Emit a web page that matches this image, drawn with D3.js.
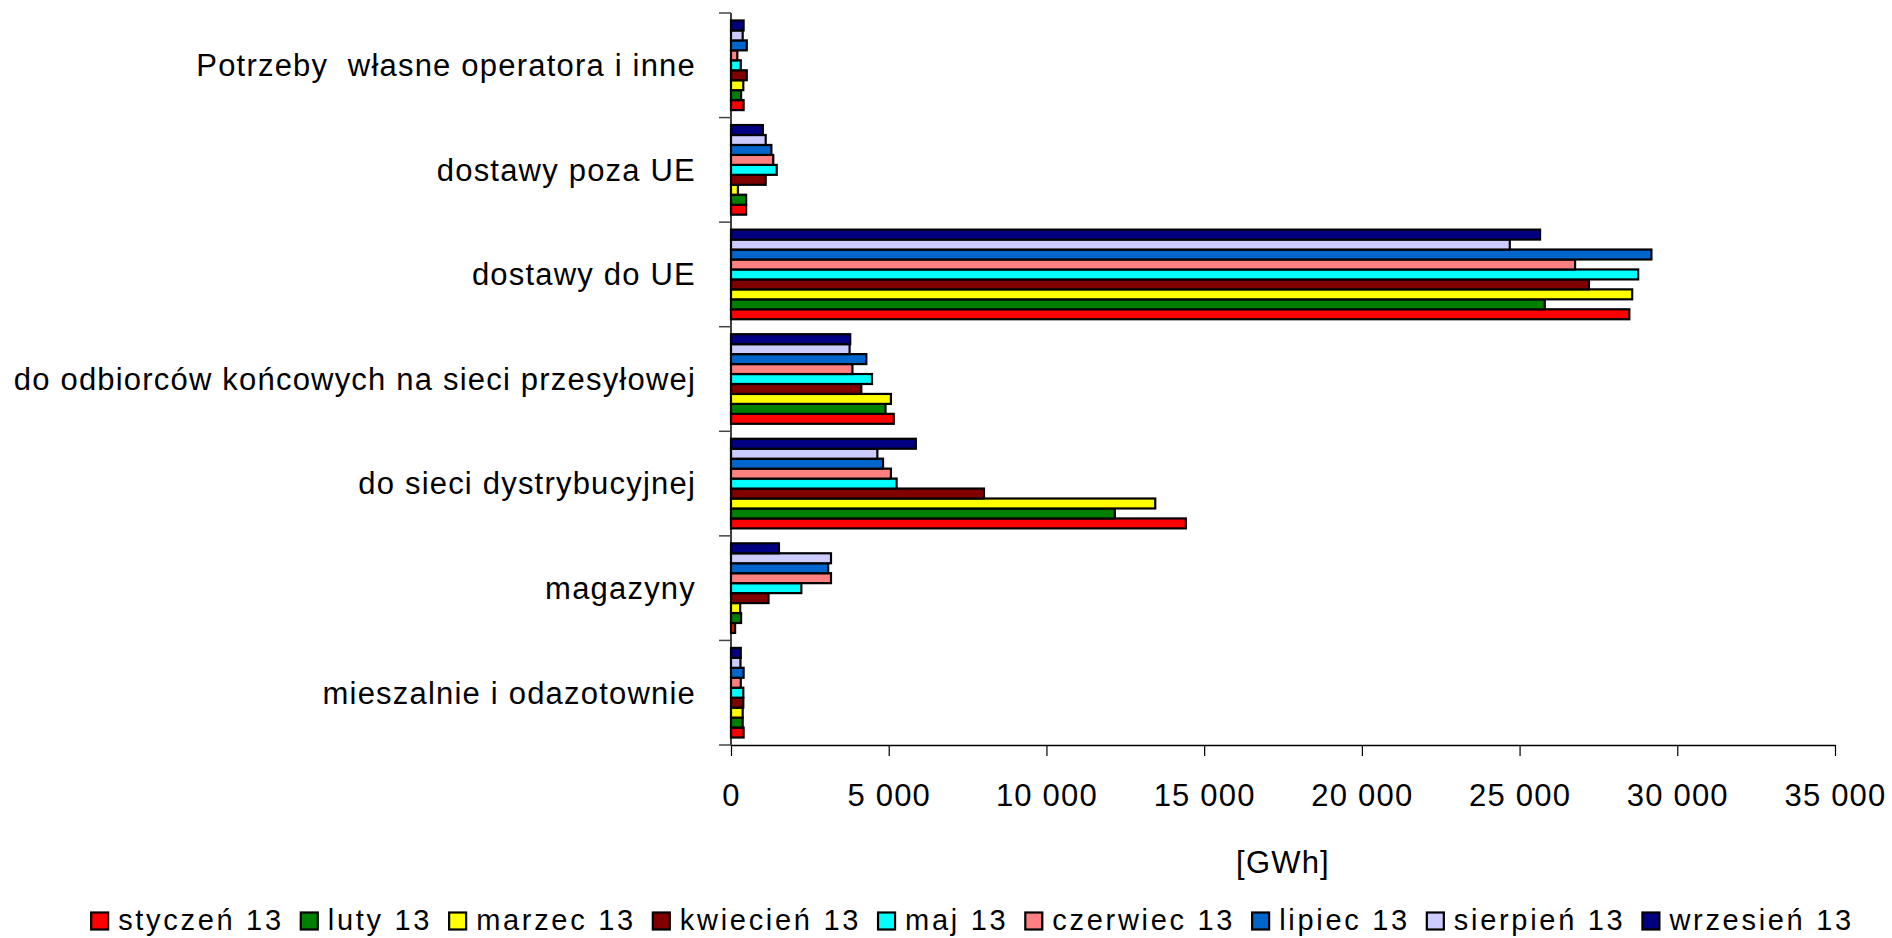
<!DOCTYPE html>
<html><head><meta charset="utf-8">
<script src="https://cdn.jsdelivr.net/npm/d3@7"></script>
<style>
body{margin:0;background:#fff}
text{font-family:"Liberation Sans",Arial,sans-serif;font-size:31px;letter-spacing:1.2px;fill:#000;white-space:pre}
text.leg{font-size:29px;letter-spacing:2.7px}
</style>
</head><body>
<svg id="c" width="1892" height="938"></svg>
<script>
// ---- data ----
const categories = [
  "Potrzeby  własne operatora i inne",
  "dostawy poza UE",
  "dostawy do UE",
  "do odbiorców końcowych na sieci przesyłowej",
  "do sieci dystrybucyjnej",
  "magazyny",
  "mieszalnie i odazotownie"
];
const seriesNames = ["styczeń 13","luty 13","marzec 13","kwiecień 13","maj 13","czerwiec 13","lipiec 13","sierpień 13","wrzesień 13"];
const seriesColors = ["#FF0000","#008000","#FFFF00","#800000","#00FFFF","#FF8080","#0066CC","#CCCCFF","#000080"];
// values per month, in category order
const styczen  = [400, 480, 28480, 5160, 14420, 130, 400];
const luty     = [320, 480, 25800, 4900, 12170, 320, 370];
const marzec   = [390, 220, 28570, 5070, 13450, 290, 370];
const kwiecien = [500, 1100, 27200, 4130, 8020, 1190, 390];
const maj      = [310, 1450, 28760, 4470, 5250, 2230, 390];
const czerwiec = [200, 1340, 26760, 3850, 5070, 3170, 310];
const lipiec   = [500, 1280, 29180, 4290, 4820, 3080, 400];
const sierpien = [370, 1100, 24690, 3760, 4640, 3170, 300];
const wrzesien = [400, 1010, 25650, 3780, 5860, 1520, 310];
const seriesValues = [styczen, luty, marzec, kwiecien, maj, czerwiec, lipiec, sierpien, wrzesien];
const xTicks = [0, 5000, 10000, 15000, 20000, 25000, 30000, 35000];
const axisTitle = "[GWh]";

// ---- chart ----
const svg = d3.select("#c");
const x = d3.scaleLinear().domain([0, 35000]).range([731, 1835]);
const y = d3.scaleBand().domain(categories).range([13, 745]).padding(0);
const ys = d3.scaleBand().domain(seriesNames.slice().reverse())
  .range([0, y.bandwidth()]).paddingInner(0).paddingOuter(0.75);

// bars
seriesNames.forEach((s, si) => {
  svg.append("g").selectAll("rect")
    .data(categories.map((c, ci) => ({c, v: seriesValues[si][ci]})))
    .join("rect")
    .attr("x", x(0))
    .attr("y", d => y(d.c) + ys(s))
    .attr("width", d => x(d.v) - x(0))
    .attr("height", ys.bandwidth())
    .attr("fill", seriesColors[si])
    .attr("stroke", "#000")
    .attr("stroke-width", 2.2);
});

// y axis
const ya = svg.append("g");
ya.append("line").attr("x1", x(0)).attr("x2", x(0)).attr("y1", y.range()[0]).attr("y2", y.range()[1])
  .attr("stroke", "#000").attr("stroke-width", 1.5);
const bounds = categories.map(c => y(c)).concat([y.range()[1]]);
ya.selectAll(".yt").data(bounds).join("line")
  .attr("x1", x(0) - 12).attr("x2", x(0)).attr("y1", d => d).attr("y2", d => d)
  .attr("stroke", "#444").attr("stroke-width", 1.5);
ya.selectAll(".yl").data(categories).join("text")
  .attr("x", 696).attr("y", d => y(d) + y.bandwidth() / 2).attr("dy", "0.35em")
  .attr("text-anchor", "end").text(d => d);

// x axis
const xa = svg.append("g").attr("transform", "translate(0,745)")
  .call(d3.axisBottom(x).tickValues(xTicks).tickSize(11).tickSizeOuter(0)
    .tickFormat(d => d3.format(",")(d).replace(/,/g, " ")));
xa.select(".domain").attr("stroke", "#000").attr("stroke-width", 1.5);
xa.selectAll(".tick line").attr("stroke", "#000").attr("stroke-width", 1.2);
xa.selectAll(".tick text").attr("y", 50).attr("dy", "0.35em")
  .attr("font-size", null).attr("font-family", null).style("font-size", "31px");
xa.attr("font-size", null).attr("font-family", null);

svg.append("text").attr("x", (x.range()[0] + x.range()[1]) / 2).attr("y", 862).attr("dy", "0.35em")
  .attr("text-anchor", "middle").text(axisTitle);

// legend
const lg = svg.append("g");
const items = lg.selectAll("g").data(seriesNames).join("g");
items.append("rect").attr("width", 17).attr("height", 17).attr("y", -8.5)
  .attr("fill", (d, i) => seriesColors[i]).attr("stroke", "#000").attr("stroke-width", 2.2);
items.append("text").attr("class", "leg").attr("x", 27).attr("y", 9).text(d => d);
let cx = 0;
items.each(function() {
  const g = d3.select(this);
  g.attr("transform", `translate(${cx},921)`);
  const w = g.select("text").node().getComputedTextLength();
  cx += 27 + w + 17;
});
const total = cx - 17;
lg.attr("transform", `translate(${972.5 - total / 2},0)`);
</script>
</body></html>
